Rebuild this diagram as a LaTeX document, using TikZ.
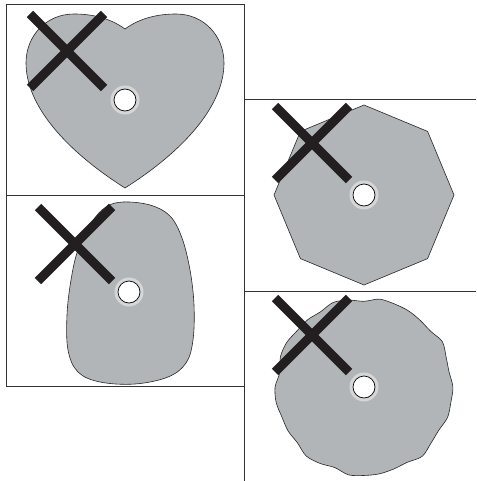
\documentclass[tikz,border=0pt]{standalone}
\usepackage{tikz}
\usetikzlibrary{calc}
\usepackage{xcolor}
\definecolor{disc}{HTML}{B1B5B8}
\definecolor{ring}{HTML}{D4D6D8}
\definecolor{cross}{HTML}{231F20}
\definecolor{frame}{HTML}{333333}

% centre hole of a disc
\newcommand{\centrehole}[1]{%
  \fill[ring] (#1) circle[radius=14.5];
  \draw[fill=white,line width=0.7pt] (#1) circle[radius=11];}
% the cross mark
\newcommand{\dropcross}[1]{%
  \draw[bar] (#1) ++(-37,-37) -- ++(74,74);
  \draw[bar] (#1) ++(37,-37) -- ++(-74,74);}

\begin{document}
\begin{tikzpicture}[x=1pt,y=-1pt,
  panel/.style={frame,line width=1pt},
  discshape/.style={fill=disc,draw=black!85,line width=0.6pt},
  bar/.style={cross,line width=9pt}]
  \useasboundingbox (0,0) rectangle (476,481);

  % Frames
  \draw[panel] (6,4.5) rectangle (244,195);
  \draw[panel] (6,195) rectangle (244,386);
  \draw[panel] (476,100) -- (244,100) -- (244,481);
  \draw[panel] (244,291) -- (476,291);

  % Top left: heart
  \coordinate (heartHole) at (125,100);
  \coordinate (heartCross) at (67,51);
  \draw[discshape] (125,29) .. controls (140,18) and (158,14) .. (176,14)
    .. controls (204,14) and (224,36) .. (224,63)
    .. controls (224,105) and (185,150) .. (125,188)
    .. controls (65,150) and (26,105) .. (26,63)
    .. controls (26,36) and (46,14) .. (74,14)
    .. controls (92,14) and (110,18) .. (125,29) -- cycle;
  \centrehole{heartHole}
  \dropcross{heartCross}

  % Bottom left: egg
  \coordinate (eggHole) at (129,292);
  \coordinate (eggCross) at (75,244);
  \draw[discshape] plot[smooth cycle,tension=0.6] coordinates {
    (123,202) (150,205) (170,216) (182,238) (190,270) (194,305)
    (193,340) (186,363) (168,377) (135,384) (100,382) (78,372)
    (68,350) (67,315) (71,280) (78,250) (92,222) (106,207)};
  \centrehole{eggHole}
  \dropcross{eggCross}

  % Top right: octagon
  \coordinate (octHole) at (364,195);
  \coordinate (octCross) at (312,143);
  \draw[discshape] (364,105) -- (427.6,131.4) -- (454,195) -- (427.6,258.6)
    -- (364,285) -- (300.4,258.6) -- (274,195) -- (300.4,131.4) -- cycle;
  \centrehole{octHole}
  \dropcross{octCross}

  % Bottom right: wavy disc
  \coordinate (waveHole) at (364,387);
  \coordinate (waveCross) at (312,335);
  \draw[discshape] plot[smooth cycle,domain=0:350,samples=36]
    ({364+(88+1.4*sin(9*\x)+1.2*cos(14*\x+40))*cos(\x)},
     {387+(88+1.4*sin(9*\x)+1.2*cos(14*\x+40))*sin(\x)});
  \centrehole{waveHole}
  \dropcross{waveCross}
\end{tikzpicture}
\end{document}
